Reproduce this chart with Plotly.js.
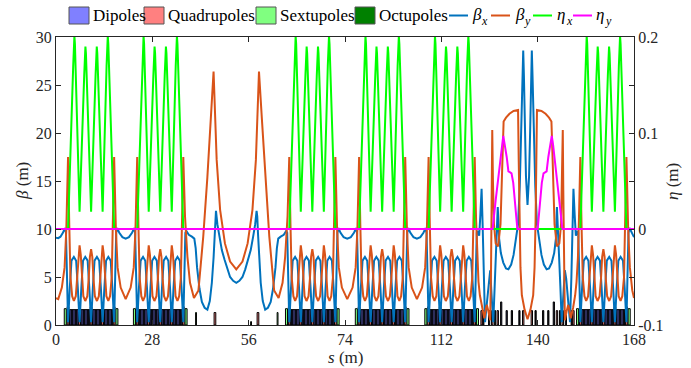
<!DOCTYPE html>
<html><head><meta charset="utf-8">
<script src="https://cdn.plot.ly/plotly-3.0.1.min.js"></script>
<style>
html,body{margin:0;padding:0;background:#fff}#chart{width:691px;height:368px}
#chart svg text{font-family:"Liberation Serif","DejaVu Serif",serif !important}
</style>
</head><body><div id="chart"></div>
<script>
// ---- lattice functions: [s (m), value] ----
const betaXPts = [
[0,9.1],[0.65,9.05],[1.3,9.2],[2.0,9.6],[2.6,10.1],[2.9,9.6],[3.2,5.0],
[3.5,0.3],[4.0,3.8],[4.5,6.7],[5.2,7.1],[5.85,6.7],[6.35,3.8],[6.85,0.3],[7.35,3.8],[7.85,6.7],[8.5,7.1],[9.2,6.7],[9.7,3.8],[10.2,0.3],[10.7,3.8],[11.2,6.7],[11.9,7.1],[12.55,6.7],[13.05,3.8],[13.55,0.3],[14.05,3.8],[14.55,6.7],[15.2,7.1],[15.9,6.7],[16.4,3.8],[16.9,0.3],
[17.2,5.0],[17.5,9.6],[17.8,10.1],[18.4,9.6],[19.3,9.15],[20.25,9.0],[21.2,9.15],[22.1,9.6],[22.7,10.1],[23.0,9.6],[23.3,5.0],
[23.6,0.3],[24.1,3.8],[24.6,6.7],[25.3,7.1],[25.95,6.7],[26.45,3.8],[26.95,0.3],[27.45,3.8],[27.95,6.7],[28.6,7.1],[29.3,6.7],[29.8,3.8],[30.3,0.3],[30.8,3.8],[31.3,6.7],[32.0,7.1],[32.65,6.7],[33.15,3.8],[33.65,0.3],[34.15,3.8],[34.65,6.7],[35.3,7.1],[36.0,6.7],[36.5,3.8],[37.0,0.3],
[37.3,5.0],[37.6,9.6],[37.9,9.8],[38.6,9.4],[39.5,9.2],[40.2,9.0],[40.6,8.0],[41.0,6.0],[41.7,3.8],[42.4,2.4],[43.2,1.8],[44.0,1.6],[44.7,2.5],[45.3,4.4],[45.8,7.0],[46.1,9.6],[46.3,11.3],[46.5,11.9],[46.9,10.5],[47.5,9.2],[48.2,7.8],[49.0,6.8],[49.8,5.8],[50.6,5.0],[51.5,4.6],[52.4,4.4],[53.3,4.6],[54.2,5.0],[55.0,5.8],[55.8,6.8],[56.6,7.8],[57.3,9.2],[57.9,10.5],[58.3,11.9],[58.5,11.3],[58.7,9.6],[59.0,7.0],[59.5,4.4],[60.1,2.5],[60.8,1.6],[61.6,1.8],[62.4,2.4],[63.1,3.8],[63.8,6.0],[64.2,8.0],[64.6,9.0],[65.3,9.2],[66.2,9.4],[66.9,9.8],[67.2,9.6],[67.5,5.0],
[67.8,0.3],[68.3,3.8],[68.8,6.7],[69.5,7.1],[70.15,6.7],[70.65,3.8],[71.15,0.3],[71.65,3.8],[72.15,6.7],[72.8,7.1],[73.5,6.7],[74.0,3.8],[74.5,0.3],[75.0,3.8],[75.5,6.7],[76.2,7.1],[76.85,6.7],[77.35,3.8],[77.85,0.3],[78.35,3.8],[78.85,6.7],[79.5,7.1],[80.2,6.7],[80.7,3.8],[81.2,0.3],
[81.5,5.0],[81.8,9.6],[82.1,10.1],[82.7,9.6],[83.6,9.15],[84.65,9.0],[85.7,9.15],[86.6,9.6],[87.2,10.1],[87.5,9.6],[87.8,5.0],
[88.1,0.3],[88.6,3.8],[89.1,6.7],[89.8,7.1],[90.45,6.7],[90.95,3.8],[91.45,0.3],[91.95,3.8],[92.45,6.7],[93.1,7.1],[93.8,6.7],[94.3,3.8],[94.8,0.3],[95.3,3.8],[95.8,6.7],[96.5,7.1],[97.15,6.7],[97.65,3.8],[98.15,0.3],[98.65,3.8],[99.15,6.7],[99.8,7.1],[100.5,6.7],[101.0,3.8],[101.5,0.3],
[101.8,5.0],[102.1,9.6],[102.4,10.1],[103.0,9.6],[103.9,9.15],[104.9,9.0],[105.9,9.15],[106.8,9.6],[107.4,10.1],[107.7,9.6],[108.0,5.0],
[108.3,0.3],[108.8,3.8],[109.3,6.7],[110.0,7.1],[110.65,6.7],[111.15,3.8],[111.65,0.3],[112.15,3.8],[112.65,6.7],[113.3,7.1],[114.0,6.7],[114.5,3.8],[115.0,0.3],[115.5,3.8],[116.0,6.7],[116.7,7.1],[117.35,6.7],[117.85,3.8],[118.35,0.3],[118.85,3.8],[119.35,6.7],[120.0,7.1],[120.7,6.7],[121.2,3.8],[121.7,0.3],
[122.0,5.0],[122.3,9.6],[122.6,9.8],[123.0,9.3],[123.35,11.5],[123.7,14.2],[124.0,10.5],[124.3,5.0],[124.7,0.3],[125.3,2.5],[125.8,4.8],[126.2,5.7],[126.7,2.5],[127.1,0.3],[127.5,4.0],[128.0,9.5],[128.4,12.3],[128.8,9.0],[129.3,7.5],[130.0,6.5],[130.8,5.9],[131.5,5.8],[132.3,6.3],[133.0,7.3],[133.7,8.8],[134.3,10.5],[134.8,14.5],[135.3,21.0],[135.6,26.0],[135.8,28.6],[136.0,26.0],[136.3,20.0],[136.6,15.5],[137.05,12.5],[137.5,15.5],[137.8,20.0],[138.1,26.0],[138.3,28.6],[138.5,26.0],[138.8,21.0],[139.3,14.5],[139.8,10.5],[140.4,8.8],[141.1,7.3],[141.8,6.3],[142.6,5.8],[143.3,5.9],[144.1,6.5],[144.8,7.5],[145.3,9.0],[145.6,12.3],[146.0,9.5],[146.6,4.0],[147.0,0.3],[147.4,2.5],[147.9,5.7],[148.3,4.8],[148.8,2.5],[149.4,0.3],[149.8,5.0],[150.1,10.5],[150.4,14.2],[150.75,11.5],[151.1,9.3],[151.5,9.8],[151.8,9.6],[152.1,5.0],
[152.4,0.3],[152.9,3.8],[153.4,6.7],[154.1,7.1],[154.75,6.7],[155.25,3.8],[155.75,0.3],[156.25,3.8],[156.75,6.7],[157.4,7.1],[158.1,6.7],[158.6,3.8],[159.1,0.3],[159.6,3.8],[160.1,6.7],[160.8,7.1],[161.45,6.7],[161.95,3.8],[162.45,0.3],[162.95,3.8],[163.45,6.7],[164.1,7.1],[164.8,6.7],[165.3,3.8],[165.8,0.3],
[166.1,5.0],[166.4,9.6],[166.7,10.1],[167.3,9.6],[168,9.15]
];
const betaYPts = [
[0,2.8],[0.65,2.7],[1.7,3.9],[2.5,6.0],[3.0,10.0],
[3.5,17.5],[3.85,10.5],[4.2,5.0],[4.7,3.0],[5.2,2.5],[5.75,3.0],[6.15,4.8],[6.5,7.3],[6.85,8.3],[7.2,7.3],[7.55,4.8],[7.95,3.0],[8.5,2.5],[9.1,3.0],[9.5,4.8],[9.85,7.1],[10.2,7.9],[10.55,7.1],[10.9,4.8],[11.3,3.0],[11.9,2.5],[12.45,3.0],[12.85,4.8],[13.2,7.3],[13.55,8.3],[13.9,7.3],[14.25,4.8],[14.65,3.0],[15.2,2.5],[15.7,3.0],[16.2,5.0],[16.55,10.5],[16.9,17.5],
[17.4,10.0],[17.9,6.0],[18.8,3.9],[20.25,2.7],[21.7,3.9],[22.6,6.0],[23.1,10.0],
[23.6,17.5],[23.95,10.5],[24.3,5.0],[24.8,3.0],[25.3,2.5],[25.85,3.0],[26.25,4.8],[26.6,7.3],[26.95,8.3],[27.3,7.3],[27.65,4.8],[28.05,3.0],[28.6,2.5],[29.2,3.0],[29.6,4.8],[29.95,7.1],[30.3,7.9],[30.65,7.1],[31.0,4.8],[31.4,3.0],[32.0,2.5],[32.55,3.0],[32.95,4.8],[33.3,7.3],[33.65,8.3],[34.0,7.3],[34.35,4.8],[34.75,3.0],[35.3,2.5],[35.8,3.0],[36.3,5.0],[36.65,10.5],[37.0,17.5],
[37.5,11.3],[38.2,7.1],[38.95,4.4],[40.1,2.8],[41.4,3.6],[42.8,9.2],[44.0,15.4],[45.0,21.7],[45.8,26.4],[46.7,17.2],[47.7,12.0],[49.1,8.5],[50.6,6.6],[52.4,5.8],[54.2,6.6],[55.7,8.5],[57.1,12.0],[58.1,17.2],[59.0,26.4],[59.8,21.7],[60.8,15.4],[62.0,9.2],[63.4,3.6],[64.7,2.8],[65.85,4.4],[66.6,7.1],[67.3,11.3],
[67.8,17.5],[68.15,10.5],[68.5,5.0],[69.0,3.0],[69.5,2.5],[70.05,3.0],[70.45,4.8],[70.8,7.3],[71.15,8.3],[71.5,7.3],[71.85,4.8],[72.25,3.0],[72.8,2.5],[73.4,3.0],[73.8,4.8],[74.15,7.1],[74.5,7.9],[74.85,7.1],[75.2,4.8],[75.6,3.0],[76.2,2.5],[76.75,3.0],[77.15,4.8],[77.5,7.3],[77.85,8.3],[78.2,7.3],[78.55,4.8],[78.95,3.0],[79.5,2.5],[80.0,3.0],[80.5,5.0],[80.85,10.5],[81.2,17.5],
[81.7,10.0],[82.2,6.0],[83.1,3.9],[84.65,2.7],[86.2,3.9],[87.1,6.0],[87.6,10.0],
[88.1,17.5],[88.45,10.5],[88.8,5.0],[89.3,3.0],[89.8,2.5],[90.35,3.0],[90.75,4.8],[91.1,7.3],[91.45,8.3],[91.8,7.3],[92.15,4.8],[92.55,3.0],[93.1,2.5],[93.7,3.0],[94.1,4.8],[94.45,7.1],[94.8,7.9],[95.15,7.1],[95.5,4.8],[95.9,3.0],[96.5,2.5],[97.05,3.0],[97.45,4.8],[97.8,7.3],[98.15,8.3],[98.5,7.3],[98.85,4.8],[99.25,3.0],[99.8,2.5],[100.3,3.0],[100.8,5.0],[101.15,10.5],[101.5,17.5],
[102.0,10.0],[102.5,6.0],[103.4,3.9],[104.9,2.7],[106.4,3.9],[107.3,6.0],[107.8,10.0],
[108.3,17.5],[108.65,10.5],[109.0,5.0],[109.5,3.0],[110.0,2.5],[110.55,3.0],[110.95,4.8],[111.3,7.3],[111.65,8.3],[112.0,7.3],[112.35,4.8],[112.75,3.0],[113.3,2.5],[113.9,3.0],[114.3,4.8],[114.65,7.1],[115.0,7.9],[115.35,7.1],[115.7,4.8],[116.1,3.0],[116.7,2.5],[117.25,3.0],[117.65,4.8],[118.0,7.3],[118.35,8.3],[118.7,7.3],[119.05,4.8],[119.45,3.0],[120.0,2.5],[120.5,3.0],[121.0,5.0],[121.35,10.5],[121.7,17.5],
[122.1,11.0],[122.4,7.0],[122.8,4.5],[123.2,3.1],[123.8,1.8],[124.5,0.7],[124.9,1.6],[125.2,2.1],[125.7,1.4],[126.2,0.5],[126.45,6.0],[126.65,14.0],[126.8,20.3],[127.0,15.0],[127.3,10.5],[127.8,8.5],[128.5,8.2],[129.2,10.5],[129.6,14.5],[129.9,19.0],[130.1,21.2],[130.8,21.6],[131.8,22.0],[133.0,22.3],[134.3,22.4],[134.5,17.0],[134.7,11.0],[135.0,6.0],[135.4,3.1],[136.2,1.6],[137.05,0.6],[137.9,1.6],[138.7,3.1],[139.1,6.0],[139.4,11.0],[139.6,17.0],[139.8,22.4],[141.1,22.3],[142.3,22.0],[143.3,21.6],[144.0,21.2],[144.2,19.0],[144.5,14.5],[144.9,10.5],[145.6,8.2],[146.3,8.5],[146.8,10.5],[147.1,15.0],[147.3,20.3],[147.45,14.0],[147.65,6.0],[147.9,0.5],[148.4,1.4],[148.9,2.1],[149.2,1.6],[149.6,0.7],[150.3,1.8],[150.9,3.1],[151.3,4.5],[151.7,7.0],[152.0,11.0],
[152.4,17.5],[152.75,10.5],[153.1,5.0],[153.6,3.0],[154.1,2.5],[154.65,3.0],[155.05,4.8],[155.4,7.3],[155.75,8.3],[156.1,7.3],[156.45,4.8],[156.85,3.0],[157.4,2.5],[158.0,3.0],[158.4,4.8],[158.75,7.1],[159.1,7.9],[159.45,7.1],[159.8,4.8],[160.2,3.0],[160.8,2.5],[161.35,3.0],[161.75,4.8],[162.1,7.3],[162.45,8.3],[162.8,7.3],[163.15,4.8],[163.55,3.0],[164.1,2.5],[164.6,3.0],[165.1,5.0],[165.45,10.5],[165.8,17.5],
[166.3,10.0],[166.8,6.0],[167.5,3.6],[168,2.8]
];
const etaXPts = [
[0,0],
[3.5,0],[5.0,0.17],[5.2,0.193],[5.35,0.201],[5.5,0.193],[5.7,0.17],[6.85,0.018],[8.2,0.16],[8.4,0.183],[8.55,0.19],[8.7,0.183],[8.9,0.16],[10.2,0.018],[11.5,0.16],[11.7,0.183],[11.85,0.19],[12.0,0.183],[12.2,0.16],[13.55,0.018],[14.7,0.17],[14.9,0.193],[15.05,0.201],[15.2,0.193],[15.4,0.17],[16.9,0],
[23.6,0],[25.1,0.17],[25.3,0.193],[25.45,0.201],[25.6,0.193],[25.8,0.17],[26.95,0.018],[28.3,0.16],[28.5,0.183],[28.65,0.19],[28.8,0.183],[29.0,0.16],[30.3,0.018],[31.6,0.16],[31.8,0.183],[31.95,0.19],[32.1,0.183],[32.3,0.16],[33.65,0.018],[34.8,0.17],[35.0,0.193],[35.15,0.201],[35.3,0.193],[35.5,0.17],[37.0,0],
[67.8,0],[69.3,0.17],[69.5,0.193],[69.65,0.201],[69.8,0.193],[70.0,0.17],[71.15,0.018],[72.5,0.16],[72.7,0.183],[72.85,0.19],[73.0,0.183],[73.2,0.16],[74.5,0.018],[75.8,0.16],[76.0,0.183],[76.15,0.19],[76.3,0.183],[76.5,0.16],[77.85,0.018],[79.0,0.17],[79.2,0.193],[79.35,0.201],[79.5,0.193],[79.7,0.17],[81.2,0],
[88.1,0],[89.6,0.17],[89.8,0.193],[89.95,0.201],[90.1,0.193],[90.3,0.17],[91.45,0.018],[92.8,0.16],[93.0,0.183],[93.15,0.19],[93.3,0.183],[93.5,0.16],[94.8,0.018],[96.1,0.16],[96.3,0.183],[96.45,0.19],[96.6,0.183],[96.8,0.16],[98.15,0.018],[99.3,0.17],[99.5,0.193],[99.65,0.201],[99.8,0.193],[100.0,0.17],[101.5,0],
[108.3,0],[109.8,0.17],[110.0,0.193],[110.15,0.201],[110.3,0.193],[110.5,0.17],[111.65,0.018],[113.0,0.16],[113.2,0.183],[113.35,0.19],[113.5,0.183],[113.7,0.16],[115.0,0.018],[116.3,0.16],[116.5,0.183],[116.65,0.19],[116.8,0.183],[117.0,0.16],[118.35,0.018],[119.5,0.17],[119.7,0.193],[119.85,0.201],[120.0,0.193],[120.2,0.17],[121.7,0],
[152.4,0],[153.9,0.17],[154.1,0.193],[154.25,0.201],[154.4,0.193],[154.6,0.17],[155.75,0.018],[157.1,0.16],[157.3,0.183],[157.45,0.19],[157.6,0.183],[157.8,0.16],[159.1,0.018],[160.4,0.16],[160.6,0.183],[160.75,0.19],[160.9,0.183],[161.1,0.16],[162.45,0.018],[163.6,0.17],[163.8,0.193],[163.95,0.201],[164.1,0.193],[164.3,0.17],[165.8,0],
[168,0]
];
const etaYPts = [
[0,0],[126.9,0],[127.8,0.03],[128.9,0.065],[129.6,0.087],[130.0,0.097],[131.0,0.075],[131.5,0.06],[132.0,0.059],[132.4,0.058],[132.9,0.048],[134.1,0],
[140.0,0],[141.2,0.048],[141.7,0.058],[142.1,0.059],[142.6,0.06],[143.1,0.075],[144.1,0.097],[144.5,0.087],[145.2,0.065],[146.3,0.03],[147.2,0],[168,0]
];

// ---- magnets: centre s (m), length (m), drawn height (m) ----
const dipoleS = [5.2,8.5,11.9,15.2, 25.3,28.6,32.0,35.3, 69.5,72.8,76.2,79.5, 89.8,93.1,96.5,99.8, 110.0,113.3,116.7,120.0, 154.1,157.4,160.8,164.1,
  124.2,125.9,127.6,129.4,131.0,132.5,134.7,139.4,141.6,143.1,144.7,146.5,148.2,149.9];
const dipoleL = [2.6,2.6,2.6,2.6, 2.6,2.6,2.6,2.6, 2.6,2.6,2.6,2.6, 2.6,2.6,2.6,2.6, 2.6,2.6,2.6,2.6, 2.6,2.6,2.6,2.6,
  0.35,0.35,0.35,0.35,0.35,0.35,0.35,0.35,0.35,0.35,0.35,0.35,0.35,0.35];
const dipoleH = [1.6,1.6,1.6,1.6, 1.6,1.6,1.6,1.6, 1.6,1.6,1.6,1.6, 1.6,1.6,1.6,1.6, 1.6,1.6,1.6,1.6, 1.6,1.6,1.6,1.6,
  1.5,1.5,1.5,2.4,1.5,1.5,1.5,1.5,1.5,1.5,2.4,1.5,1.5,1.5];
const quadS = [3.5,6.85,10.2,13.55,16.9, 23.6,26.95,30.3,33.65,37.0, 67.8,71.15,74.5,77.85,81.2, 88.1,91.45,94.8,98.15,101.5, 108.3,111.65,115.0,118.35,121.7, 152.4,155.75,159.1,162.45,165.8,
  46.2,58.7, 123.7,126.8,128.4,135.8,138.3,145.6,147.3,150.4];
const quadL = [0.5,0.5,0.5,0.5,0.5, 0.5,0.5,0.5,0.5,0.5, 0.5,0.5,0.5,0.5,0.5, 0.5,0.5,0.5,0.5,0.5, 0.5,0.5,0.5,0.5,0.5, 0.5,0.5,0.5,0.5,0.5,
  0.5,0.5, 0.4,0.4,0.4,0.4,0.4,0.4,0.4,0.4];
const quadH = [1.9,1.9,1.9,1.9,1.9, 1.9,1.9,1.9,1.9,1.9, 1.9,1.9,1.9,1.9,1.9, 1.9,1.9,1.9,1.9,1.9, 1.9,1.9,1.9,1.9,1.9, 1.9,1.9,1.9,1.9,1.9,
  1.3,1.3, 1.5,1.5,1.5,1.5,1.5,1.5,1.5,1.5];
const sextS = [2.7,17.7,22.8,37.8,67.0,82.0,87.3,102.3,107.5,122.5,151.6,166.6, 40.7,64.4];
const sextL = [0.6,0.6,0.6,0.6,0.6,0.6,0.6,0.6,0.6,0.6,0.6,0.6, 0.25,0.25];
const sextH = [1.7,1.7,1.7,1.7,1.7,1.7,1.7,1.7,1.7,1.7,1.7,1.7, 1.3,1.3];
const octS = [56.7];
const octL = [0.25];
const octH = [0.35];

// ---- axes ----
const xTickVals = [0,28,56,84,112,140,168];
const xTickText = ['0','28','56','74','112','140','168'];
const yTickVals = [0,5,10,15,20,25,30];
const y2TickVals = [-0.1,0,0.1,0.2];
const y2TickText = ['-0.1','0','0.1','0.2'];

// ---- legend entries ----
const legendNames = ['Dipoles','Quadrupoles','Sextupoles','Octupoles','β','β','η','η'];
const legendSubs = ['','','','','x','y','x','y'];
const legendColors = ['#8080ff','#ff8080','#80ff80','#008000','#0072bd','#d95319','#00ff00','#ff00ff'];

const FONT = '"Liberation Serif", "DejaVu Serif", serif';
const INK = '#262626';
const col = (pts, i) => pts.map(p => p[i]);

function magnet(xs, ls, hs, color, pattern) {
  const m = {color: color, line: {color: '#000000', width: 1}};
  if (pattern) m.pattern = {shape: '|', fillmode: 'overlay', bgcolor: '#0a0a14', fgcolor: color, size: 4, solidity: 0.3};
  return {type: 'bar', x: xs, y: hs, width: ls, base: 0, marker: m, xaxis: 'x', yaxis: 'y',
    showlegend: false, hoverinfo: 'skip'};
}
function line(pts, color, yaxis) {
  return {type: 'scatter', mode: 'lines', x: col(pts, 0), y: col(pts, 1), xaxis: 'x', yaxis: yaxis,
    line: {color: color, width: 2}, showlegend: false, hoverinfo: 'skip'};
}

const data = [
  magnet(dipoleS, dipoleL, dipoleH, legendColors[0], true),
  magnet(quadS, quadL, quadH, legendColors[1], false),
  magnet(sextS, sextL, sextH, legendColors[2], false),
  magnet(octS, octL, octH, legendColors[3], false),
  line(betaXPts, legendColors[4], 'y'),
  line(betaYPts, legendColors[5], 'y'),
  line(etaXPts, legendColors[6], 'y2'),
  line(etaYPts, legendColors[7], 'y2')
];

// plot area in pixels
const L = 56, T = 37, W = 578, H = 288;
const px = v => (v - L) / W;
const py = v => (T + H - v) / H;

const swatchX = [69,144,256,355,449,491,533,573];
const textX = [91,166,278,377,470,513,555,594];
const shapes = [], annotations = [];
for (let i = 0; i < 8; i++) {
  if (i < 4) {
    shapes.push({type: 'rect', xref: 'paper', yref: 'paper', x0: px(swatchX[i]), x1: px(swatchX[i] + 20),
      y0: py(24), y1: py(7), fillcolor: legendColors[i], line: {color: '#555555', width: 1}});
    annotations.push({xref: 'paper', yref: 'paper', x: px(textX[i]), y: py(15.5), xanchor: 'left', yanchor: 'middle',
      text: legendNames[i], showarrow: false, font: {family: FONT, size: 17, color: '#000000'}});
  } else {
    shapes.push({type: 'line', xref: 'paper', yref: 'paper', x0: px(swatchX[i]), x1: px(swatchX[i] + 19),
      y0: py(15.5), y1: py(15.5), line: {color: legendColors[i], width: 2}});
    annotations.push({xref: 'paper', yref: 'paper', x: px(textX[i]), y: py(14.5), xanchor: 'left', yanchor: 'middle',
      text: legendNames[i], showarrow: false, font: {family: FONT, size: 17, color: '#000000', style: 'italic'}});
    annotations.push({xref: 'paper', yref: 'paper', x: px(textX[i] + 9), y: py(21), xanchor: 'left', yanchor: 'middle',
      text: legendSubs[i], showarrow: false, font: {family: FONT, size: 12, color: '#000000', style: 'italic'}});
  }
}
// axis titles
annotations.push({xref: 'paper', yref: 'paper', x: px(345), y: py(357.5), xanchor: 'center', yanchor: 'middle',
  text: '<i>s</i> (m)', showarrow: false, font: {family: FONT, size: 17, color: INK}});
annotations.push({xref: 'paper', yref: 'paper', x: px(22), y: py(181), xanchor: 'center', yanchor: 'middle', textangle: -90,
  text: '<i>β</i> (m)', showarrow: false, font: {family: FONT, size: 17, color: INK}});
annotations.push({xref: 'paper', yref: 'paper', x: px(672), y: py(181), xanchor: 'center', yanchor: 'middle', textangle: -90,
  text: '<i>η</i> (m)', showarrow: false, font: {family: FONT, size: 17, color: INK}});

const axisCommon = {ticks: 'inside', ticklen: 5, tickcolor: INK, showline: true, linecolor: INK, linewidth: 1,
  showgrid: false, zeroline: false, tickfont: {family: FONT, size: 16, color: INK}};

const layout = {
  width: 691, height: 368,
  margin: {l: L, r: 691 - L - W, t: T, b: 368 - T - H},
  paper_bgcolor: '#ffffff', plot_bgcolor: '#ffffff',
  barmode: 'overlay', showlegend: false,
  font: {family: FONT, size: 16, color: INK},
  xaxis: Object.assign({range: [0, 168], tickvals: xTickVals, ticktext: xTickText, mirror: 'ticks'}, axisCommon),
  yaxis: Object.assign({range: [0, 30], tickvals: yTickVals, mirror: 'ticks'}, axisCommon),
  yaxis2: Object.assign({range: [-0.1, 0.2], overlaying: 'y', side: 'right', tickvals: y2TickVals, ticktext: y2TickText}, axisCommon),
  shapes: shapes,
  annotations: annotations
};

Plotly.newPlot('chart', data, layout, {staticPlot: true, displayModeBar: false});
</script>
</body></html>
